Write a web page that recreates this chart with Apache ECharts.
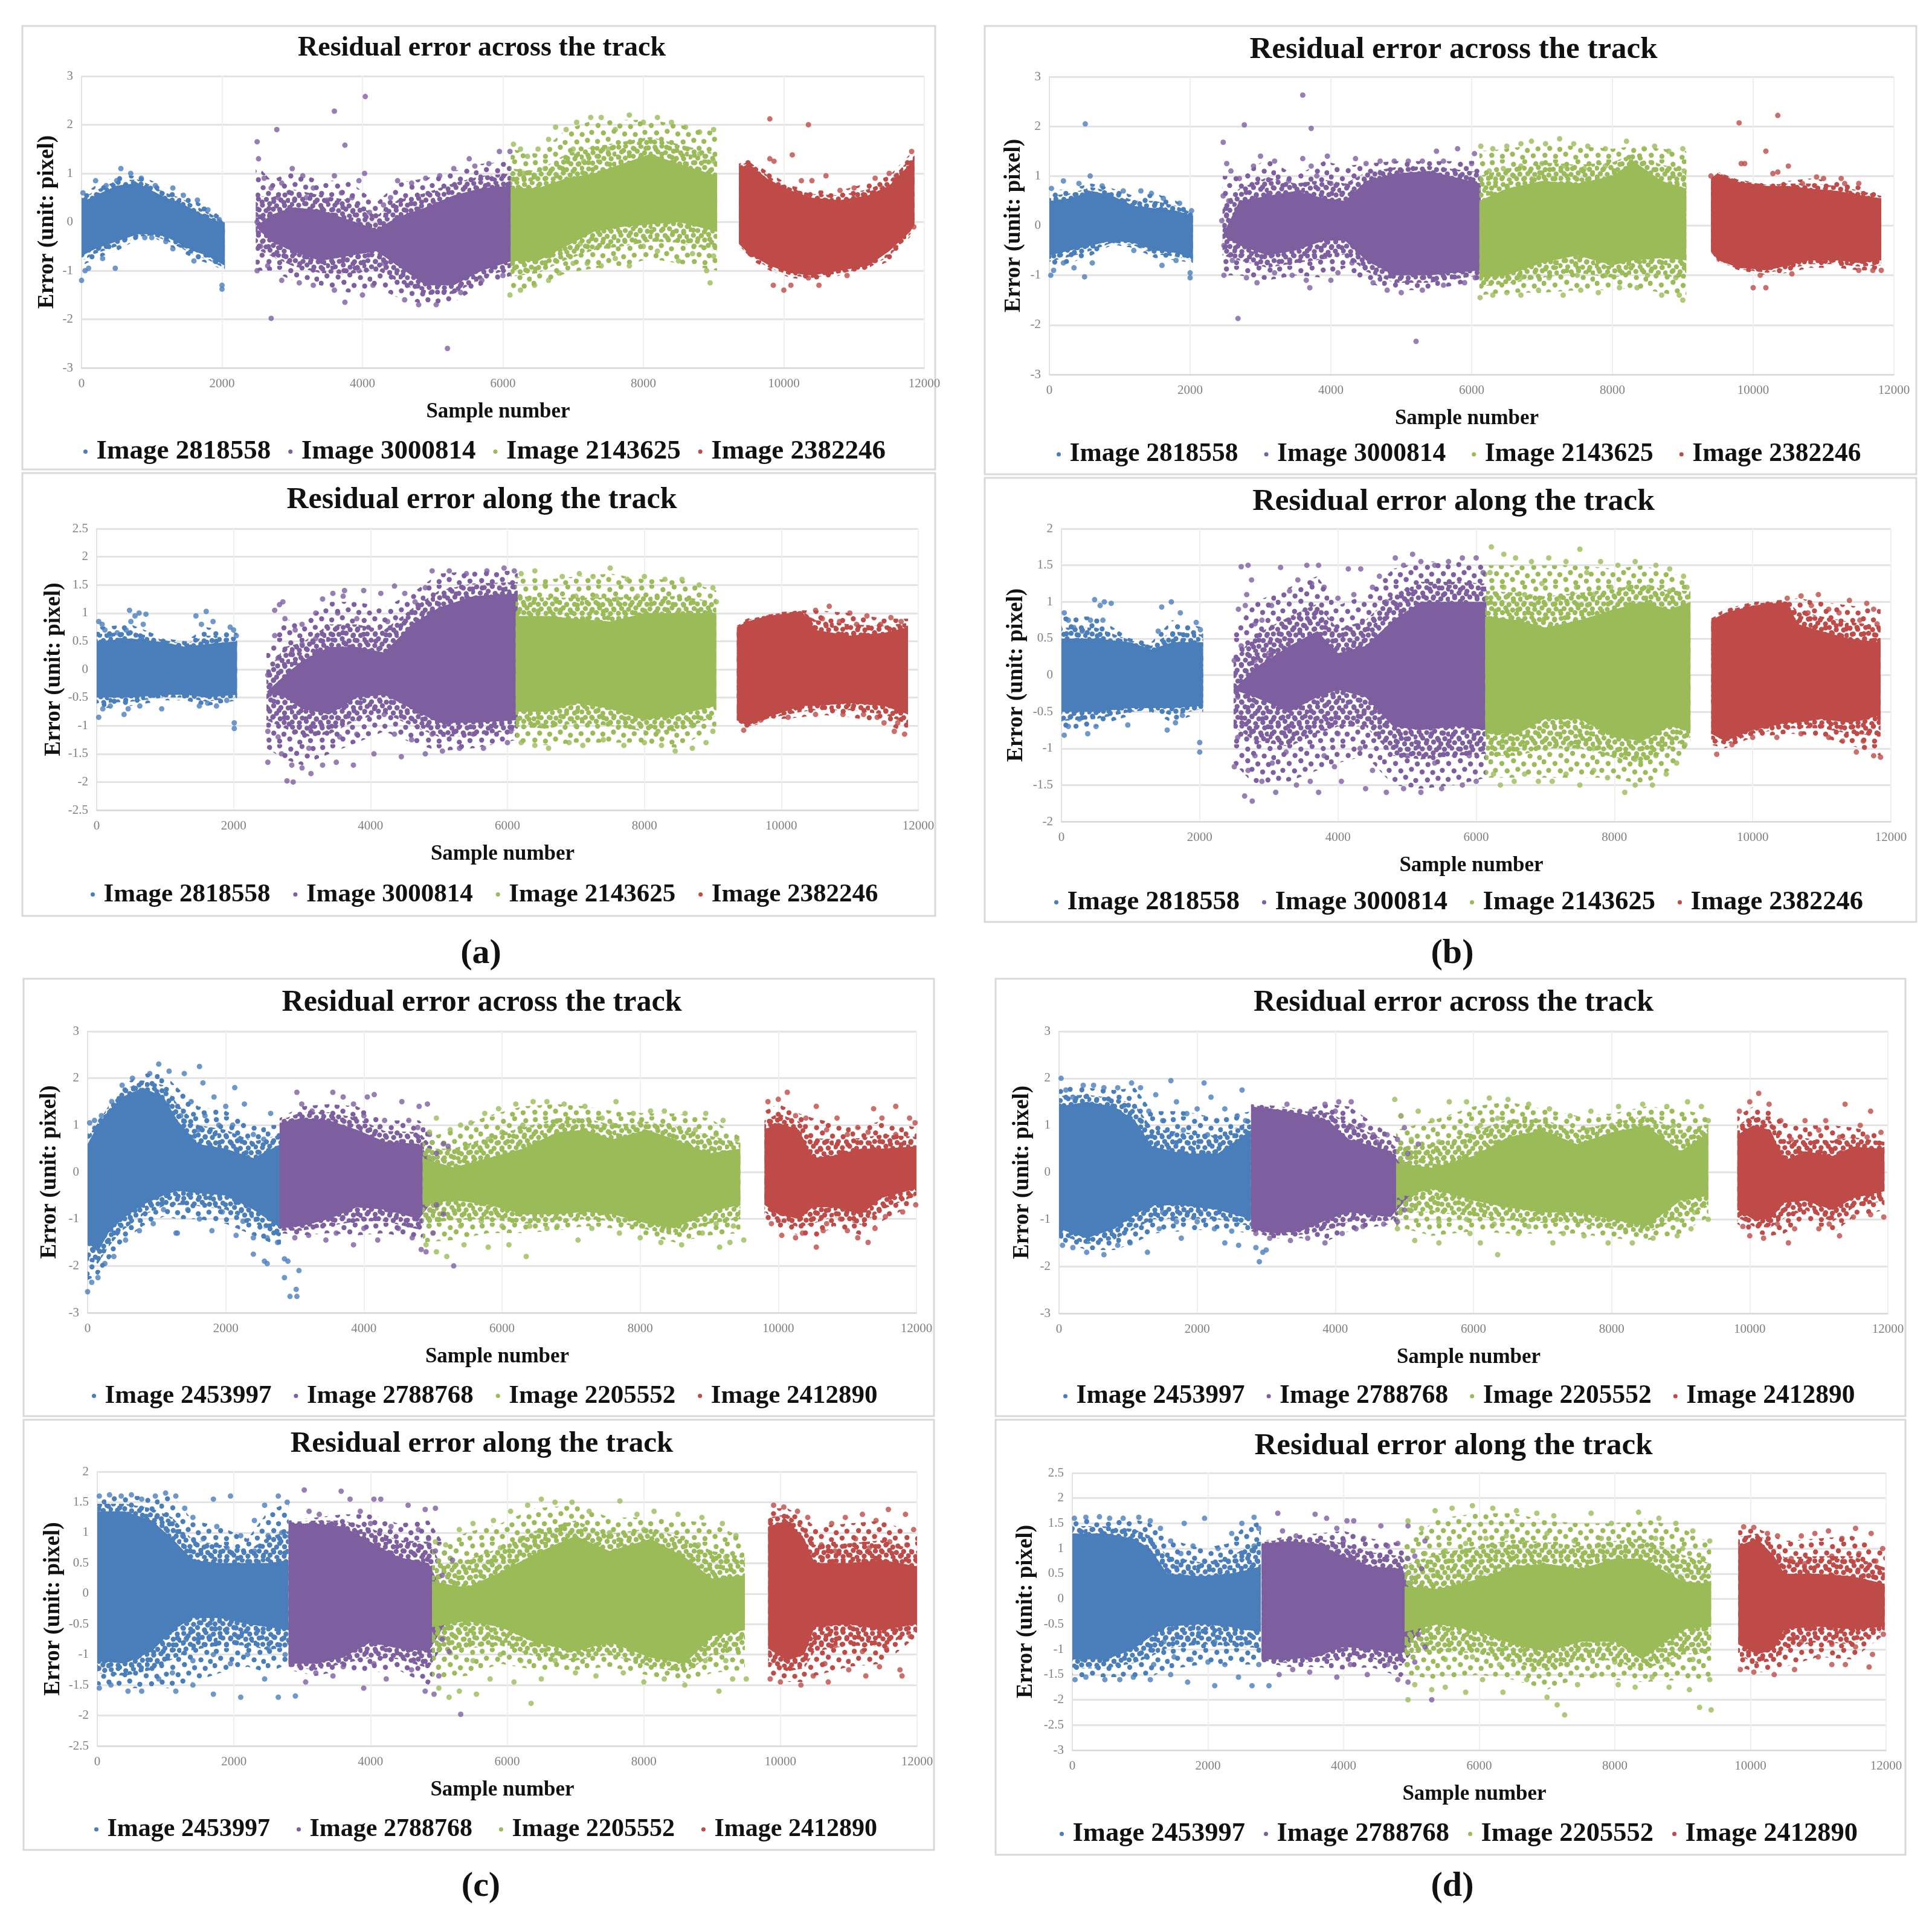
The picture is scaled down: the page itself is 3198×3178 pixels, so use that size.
<!DOCTYPE html>
<html>
<head>
<meta charset="utf-8">
<title>Residual error</title>
<script src="https://cdn.jsdelivr.net/npm/echarts@6/dist/echarts.min.js"></script>
<style>
  html, body { margin: 0; padding: 0; background: #fff; }
  #chart { width: 3198px; height: 3178px; }
</style>
</head>
<body>
<div id="chart"></div>
<script>
// legend names
const imagesAB = ["Image 2818558", "Image 3000814", "Image 2143625", "Image 2382246"];
const imagesCD = ["Image 2453997", "Image 2788768", "Image 2205552", "Image 2412890"];
const xTicksMax = 12000;

// Each cloud is read off the picture twice:
// its outline as [sample, solid low, solid high, outer low, outer high], and the separate points round it as [sample, error]

// (a) across
const a1Blue = [[0,-.7,.4,-.9,.55],[200,-.55,.55,-.75,.75],[500,-.4,.75,-.6,.95],[800,-.25,.8,-.35,.95],[1000,-.25,.65,-.3,.85],[1200,-.3,.5,-.45,.7],[1400,-.45,.4,-.6,.6],[1600,-.6,.25,-.75,.45],[1800,-.7,.1,-.85,.3],[2040,-.9,-.05,-1,.05]];
const a1BlueDots = [[0,-1.2],[50,-1],[100,-.95],[300,-.75],[480,-.95],[560,1.1],[500,.85],[700,1],[850,.9],[1050,.75],[1300,.7],[1450,.55],[1650,.45],[1800,.25],[1960,.05],[2000,-1.3],[2000,-1.38],[20,.6],[200,.85],[350,.75],[1300,-.55],[1600,-.8],[1000,-.32],[900,-.32],[1200,-.4],[1900,-.8]];
const a1Purple = [[2480,-.1,-.1,-1,1.2],[2700,-.4,.15,-1,.85],[3000,-.6,.3,-1.2,1.05],[3400,-.8,.25,-1.3,.85],[3800,-.7,.05,-1.45,.85],[4200,-.6,-.15,-1.35,.4],[4500,-.9,.1,-1.55,.8],[4900,-1.3,.3,-1.7,.9],[5300,-1.3,.55,-1.65,1.05],[5700,-1,.7,-1.3,1.2],[6130,-.8,.75,-1.1,1.25]];
const a1PurpleDots = [[2520,1.3],[2600,.9],[2700,.7],[2850,.8],[3000,1.1],[3150,.95],[3300,.7],[3600,.95],[3700,.6],[4030,1],[3950,.85],[3850,.5],[4300,.35],[4500,.85],[4700,.8],[4900,.9],[5100,.95],[5300,1.1],[5520,1.3],[5600,1.15],[5800,1.2],[5950,1.45],[6100,1.45],[2500,1.65],[2780,1.9],[3600,2.28],[4040,2.58],[3750,1.58],[2700,-1.98],[5210,-2.6],[2500,-1],[2650,-.9],[2850,-1.2],[3100,-1.25],[3300,-1.3],[3600,-1.4],[3750,-1.65],[4000,-1.5],[4150,-1.3],[4600,-1.6],[4800,-1.7],[5050,-1.7],[5400,-1.45],[5700,-1.2],[6000,-1.1],[2500,0],[2550,-.5],[4100,.2],[4400,.5],[2800,.5],[3200,.5],[3500,.45],[3950,-1],[4300,-.85]];
const a1Green = [[6110,-.8,.7,-1.45,1.5],[6500,-.8,.7,-1.3,1.4],[6900,-.5,.9,-1.05,1.9],[7300,-.2,1,-.95,2.1],[7700,-.1,1.2,-.9,2.1],[8100,-.05,1.4,-.75,2.1],[8500,0,1.2,-.85,2],[9050,-.2,.95,-1,1.85]];
const a1GreenDots = [[6150,1.6],[6250,1.5],[6350,1.35],[6500,1.5],[6650,1.7],[6750,1.95],[6900,1.9],[7050,2.05],[7250,2.15],[7400,2.15],[7600,1.9],[7800,2.2],[8000,2.05],[8200,2.15],[8400,2.05],[8600,1.95],[8800,1.85],[9000,1.9],[6300,1],[6600,1.1],[7000,1.5],[7150,1.25],[7500,1.5],[6450,.95],[8800,1.4],[9000,1.25],[6100,-1.5],[6250,-1.4],[6450,-1.3],[6650,-1.2],[6800,-1.05],[7000,-.85],[7200,-.85],[7400,-.9],[7600,-.75],[7800,-.9],[8000,-.5],[8200,-.6],[8500,-.8],[8700,-.65],[8900,-1],[8950,-1.25],[9000,-.7],[7100,-.45],[7500,-.5]];
const a1Red = [[9360,-.45,1.1,-.5,1.2],[9500,-.65,1.2,-.75,1.3],[9800,-.9,.85,-1,1],[10100,-1.05,.65,-1.15,.75],[10400,-1.1,.5,-1.2,.65],[10800,-1,.45,-1.1,.65],[11200,-.9,.55,-1,.8],[11500,-.6,.75,-.8,.95],[11800,-.2,1.2,-.3,1.4],[11860,-.05,1.35,-.1,1.45]];
const a1RedDots = [[9800,2.12],[10350,2],[10120,1.38],[9800,1.3],[9860,1.25],[10400,.85],[10250,.85],[10600,.95],[10100,-1.3],[9850,-1.3],[10000,-1.4],[10500,-1.3],[10800,.65],[11000,.7],[11300,.9],[11500,1],[11820,1.45],[10900,-1.1],[10350,-1.15],[11600,.95],[11400,.7],[11850,-.1]];

// (a) along
const a2Blue = [[0,-.5,.5,-.7,.75],[500,-.5,.55,-.65,.8],[1000,-.45,.48,-.55,.55],[1300,-.45,.4,-.55,.5],[1600,-.5,.45,-.65,.75],[2050,-.45,.5,-.55,.65]];
const a2BlueDots = [[30,.85],[80,.8],[120,.7],[200,.6],[300,.65],[430,.7],[480,1.05],[560,.95],[620,1],[720,.98],[680,.8],[500,.85],[1450,.95],[1600,1.03],[1700,.85],[1530,.8],[1950,.75],[2000,.7],[2040,.6],[30,-.85],[90,-.7],[200,-.65],[400,-.8],[460,-.7],[630,-.65],[950,-.7],[1500,-.65],[1620,-.6],[1750,-.65],[2010,-1.05],[2010,-.95],[1900,-.55]];
const a2Purple = [[2480,-.4,-.4,-1.4,.3],[2750,-.5,-.1,-1.6,.9],[3000,-.7,.15,-1.7,.8],[3400,-.8,.4,-1.5,1.2],[3800,-.5,.4,-1.3,1.2],[4200,-.45,.3,-1.1,1.1],[4600,-.7,.8,-1.3,1.35],[5000,-.95,1.1,-1.45,1.7],[5500,-.95,1.3,-1.4,1.75],[6150,-.9,1.35,-1.25,1.75]];
const a2PurpleDots = [[2600,1.05],[2670,1.15],[2720,1.2],[2750,.9],[2600,.6],[2900,.7],[3000,.8],[3200,1],[3300,1.25],[3450,1.35],[3600,1.3],[3520,1],[3620,1.4],[3900,1.4],[3800,.9],[4150,1.35],[4350,1.48],[4500,1.35],[4250,.85],[4650,1.2],[4800,1.45],[4900,1.75],[5150,1.75],[5400,1.7],[5700,1.75],[5950,1.8],[6100,1.75],[2500,-.1],[2650,.2],[2850,.3],[3000,.45],[3200,.55],[2500,-1.65],[2500,-1.1],[2650,-1.2],[2700,-1.5],[2780,-1.98],[2870,-2],[2850,-1.7],[3000,-1.75],[3130,-1.85],[3100,-1.4],[3300,-1.7],[3500,-1.65],[3750,-1.7],[3550,-1.2],[3800,-1.15],[4050,-1.5],[4450,-1.55],[4350,-1.15],[4600,-1.25],[4800,-1.5],[5050,-1.45],[5300,-1.4],[5650,-1.4],[6000,-1.3],[4200,-.8],[4900,-1.15],[5500,-1.15],[6050,-1.1]];
const a2Green = [[6120,-.75,.95,-1.3,1.65],[6600,-.75,.95,-1.35,1.6],[7000,-.6,.9,-1.3,1.65],[7500,-.7,.85,-1.3,1.7],[8000,-.9,1,-1.3,1.6],[8500,-.8,1,-1.4,1.6],[9050,-.65,1,-1,1.4]];
const a2GreenDots = [[6200,1.7],[6400,1.75],[6550,1.5],[6800,1.65],[7050,1.7],[7250,1.65],[7500,1.8],[7750,1.6],[8000,1.65],[8300,1.6],[8550,1.6],[8800,1.5],[9000,1.45],[6300,1.25],[6700,1.25],[7000,1.3],[7300,1.3],[7600,1.25],[7900,1.3],[8700,1.2],[9050,1.2],[6200,-1.3],[6400,-1.35],[6600,-1.4],[6900,-1.3],[7100,-1.35],[7400,-1.25],[7700,-1.35],[8000,-1.3],[8250,-1.35],[8450,-1.45],[8700,-1.4],[8900,-1.3],[9000,-1.1],[6500,-1],[7000,-1],[7500,-.95],[8200,-1.1],[8700,-1]];
const a2Red = [[9350,-.9,.75,-.95,.8],[9500,-1,.85,-1.05,.9],[9800,-.85,.95,-.9,1],[10300,-.65,1.03,-.85,1.05],[10500,-.65,.7,-.8,1.05],[11000,-.6,.6,-.85,1],[11500,-.65,.65,-.95,.9],[11850,-.8,.75,-1.15,.9]];
const a2RedDots = [[10500,1.05],[10700,1.12],[10600,.9],[11000,1],[10850,.85],[11250,.95],[11100,.8],[11600,.92],[11450,.8],[11750,.85],[9450,-1.08],[9700,-.9],[10100,-.85],[10500,-.8],[10900,-.8],[11200,-.8],[11400,-.85],[11500,-.95],[11650,-1.1],[11800,-1.15],[11700,-.95]];

// (b) across
const b1Blue = [[0,-.6,.5,-.85,.7],[300,-.5,.55,-.75,.75],[600,-.4,.7,-.6,.85],[900,-.3,.6,-.38,.75],[1200,-.35,.4,-.45,.6],[1500,-.5,.35,-.65,.65],[1800,-.55,.3,-.7,.5],[2040,-.65,.2,-.75,.3]];
const b1BlueDots = [[20,-1],[60,-.9],[200,-.75],[350,-.85],[500,-1.03],[610,-.75],[510,2.05],[580,1],[200,.9],[30,.75],[420,.85],[750,.8],[1050,.7],[1300,.7],[1450,.65],[1620,.55],[1850,.45],[2020,.3],[1600,-.8],[1200,-.5],[2000,-1.05],[2000,-.95],[1800,-.7]];
const b1Purple = [[2460,-.2,-.2,-1,1],[2700,-.4,.5,-1,1],[3100,-.6,.6,-1.1,1.35],[3500,-.5,.7,-1,1],[3900,-.3,.55,-1.05,1.3],[4200,-.3,.5,-.85,1.2],[4500,-.7,.9,-1.15,1.25],[4900,-1,1.05,-1.3,1.3],[5400,-1,1.1,-1.3,1.3],[6130,-.9,.85,-1.1,1.3]];
const b1PurpleDots = [[2470,1.68],[2520,1.25],[2580,1.1],[2700,.95],[2900,1.2],[3000,1.4],[3200,1.3],[3400,.9],[3600,1.35],[3720,1.2],[3950,1.4],[3800,1],[4000,.85],[4350,1.35],[4500,1.25],[4700,1.3],[4900,1.3],[5100,1.3],[5300,1.3],[5600,1.3],[5500,1.5],[5800,1.55],[6040,1.45],[6000,1.25],[2770,2.03],[3600,2.63],[3720,1.96],[2680,-1.87],[5210,-2.33],[2480,-1],[2600,-.7],[2800,-1.05],[2950,-1.15],[3200,-.95],[3450,-1],[3650,-1.1],[3700,-1.25],[4000,-1.1],[4100,-.95],[4300,-.75],[4600,-1.15],[4800,-1.3],[5000,-1.35],[5300,-1.3],[5600,-1.2],[5900,-1.15],[6050,-1.05],[2450,.1],[2480,-.4],[2550,.5],[2470,.6],[2600,-.2]];
const b1Green = [[6110,-1.05,.5,-1.4,1.5],[6500,-1,.75,-1.35,1.55],[7000,-.75,.9,-1.35,1.65],[7500,-.6,.85,-1.3,1.6],[8000,-.8,1,-1.3,1.55],[8300,-.7,1.3,-1.25,1.6],[8700,-.65,.9,-1.35,1.55],[9050,-.7,.75,-1.45,1.5]];
const b1GreenDots = [[6130,1.6],[6300,1.55],[6500,1.6],[6700,1.65],[6850,1.7],[7050,1.65],[7250,1.75],[7450,1.65],[7650,1.6],[7900,1.55],[8200,1.7],[8450,1.55],[8600,1.6],[8800,1.5],[9000,1.55],[6250,1.1],[6450,1.15],[6700,1.2],[7000,1.25],[7300,1.2],[7600,1.15],[7900,1.2],[8800,1.15],[9020,1.1],[6120,-1.45],[6300,-1.4],[6500,-1.35],[6700,-1.4],[6950,-1.3],[7300,-1.4],[7550,-1.3],[7800,-1.35],[8100,-1.25],[8350,-1.25],[8700,-1.4],[8950,-1.4],[9000,-1.5],[6700,-1.05],[7100,-1.05],[7500,-1],[7900,-1],[8500,-1],[8900,-1.05]];
const b1Red = [[9400,-.5,.9,-.55,1],[9500,-.7,1.05,-.75,1.08],[9800,-.85,.88,-.9,.92],[10200,-.9,.8,-1,.85],[10500,-.8,.8,-.95,.9],[10800,-.7,.75,-.85,.95],[11200,-.7,.7,-.85,.9],[11500,-.75,.62,-.9,.8],[11820,-.7,.55,-.9,.65]];
const b1RedDots = [[9800,2.07],[10350,2.22],[10180,1.5],[9830,1.25],[9880,1.25],[10500,1.2],[10350,1.08],[10280,1.05],[10900,.98],[11000,.95],[11250,.95],[11500,.85],[11300,.85],[10000,-1.25],[10180,-1.25],[10100,-1],[10550,-.97],[11500,-.9],[11820,-.9],[11700,-.9],[9400,1],[10700,.85]];

// (b) along
const b2Blue = [[0,-.5,.5,-.75,.8],[500,-.5,.5,-.7,.8],[1000,-.45,.45,-.55,.5],[1300,-.45,.35,-.5,.45],[1600,-.45,.45,-.65,.75],[2050,-.42,.45,-.5,.65]];
const b2BlueDots = [[40,.85],[100,.75],[180,.65],[300,.6],[420,.75],[480,1.03],[560,.95],[620,1],[720,.98],[600,.75],[1450,.93],[1590,1],[1720,.85],[1400,.6],[1950,.72],[2010,.62],[40,-.82],[100,-.7],[260,-.6],[380,-.8],[500,-.7],[960,-.68],[1530,-.75],[1650,-.65],[2000,-1.05],[2000,-.92],[1750,-.55]];
const b2Purple = [[2490,-.2,-.2,-1.2,.6],[2800,-.3,.1,-1.5,1],[3300,-.5,.4,-1.45,1.2],[3700,-.3,.6,-1.3,1.35],[4000,-.2,.3,-1.2,.95],[4400,-.3,.4,-1.1,1.1],[4800,-.7,.75,-1.5,1.45],[5200,-.75,1,-1.55,1.55],[5700,-.7,1,-1.5,1.55],[6150,-.75,1,-1.4,1.5]];
const b2PurpleDots = [[2600,1.48],[2700,1.5],[2750,1.3],[2680,1.1],[2560,.9],[2660,.95],[2800,.7],[2900,.75],[3040,.95],[3170,1.47],[3300,1.15],[3420,1.3],[3550,1.5],[3620,1.25],[3720,1.5],[3800,1.2],[4000,1.05],[4150,1.45],[4230,1.1],[4330,1.45],[4500,1.2],[4600,1.35],[4700,1],[4830,1.6],[4950,1.5],[5080,1.65],[5200,1.55],[5400,1.5],[5600,1.55],[5800,1.6],[6000,1.6],[6100,1.4],[2500,.2],[2550,-.3],[2600,.4],[2800,.2],[2700,-.5],[3000,.3],[3100,-.2],[2500,-1.25],[2550,-.85],[2650,-1.65],[2760,-1.72],[2700,-1.3],[2800,-1.1],[2900,-1.45],[3100,-1.6],[3050,-1.2],[3250,-1.05],[3400,-1.5],[3600,-1.45],[3720,-1.6],[3800,-1.1],[3950,-1.25],[4050,-1.45],[4000,-.8],[4400,-1.55],[4320,-1],[4500,-1.3],[4700,-1.6],[4950,-1.55],[5200,-1.6],[5500,-1.55],[5800,-1.5],[6000,-1.45],[5000,-1.1],[5400,-1.2],[5900,-1.1]];
const b2Green = [[6130,-.8,.8,-1.4,1.5],[6600,-.8,.75,-1.4,1.5],[7000,-.6,.65,-1.4,1.5],[7500,-.6,.75,-1.4,1.5],[8000,-.85,.9,-1.4,1.45],[8400,-.9,1,-1.5,1.5],[8800,-.7,.9,-1.3,1.4],[9100,-.75,1,-.95,1.3]];
const b2GreenDots = [[6220,1.75],[6400,1.65],[6570,1.6],[6800,1.55],[7050,1.6],[7300,1.55],[7500,1.72],[7600,1.4],[7800,1.55],[8050,1.5],[8300,1.55],[8600,1.5],[8800,1.45],[9000,1.35],[6200,1.4],[6400,1.2],[6700,1.1],[6950,1.25],[7200,1.05],[7450,1.2],[7700,1.1],[7950,1.2],[8200,1.2],[8500,1.2],[8800,1.15],[9050,1.2],[6250,-1.35],[6350,-1.5],[6550,-1.45],[6700,-1.35],[6900,-1.45],[7100,-1.45],[7300,-1.35],[7500,-1.5],[7700,-1.3],[7900,-1.4],[8150,-1.6],[8300,-1.5],[8550,-1.5],[8750,-1.35],[8900,-1.2],[9020,-.95],[6500,-1],[7000,-1],[7350,-.95],[7700,-1],[8300,-1.15],[8600,-1.1]];
const b2Red = [[9400,-.8,.75,-.95,.8],[9600,-.9,.85,-1,.9],[10000,-.75,.95,-.85,1],[10500,-.65,1,-.8,1.03],[10650,-.65,.7,-.8,1.05],[11000,-.6,.6,-.85,1],[11400,-.65,.5,-.95,.95],[11850,-.55,.45,-1.1,.9]];
const b2RedDots = [[9480,-1.08],[9700,-.95],[10000,-.85],[10350,-.85],[10700,-.8],[11100,-.85],[11300,-.9],[11500,-1.05],[11750,-1.1],[11850,-1.12],[11600,-.9],[10500,1.05],[10700,1.08],[10950,1.1],[10850,.95],[11100,.9],[11400,1.02],[11250,.85],[11650,.98],[11750,.9],[11800,.7],[11550,.75],[10800,.85]];

// (c) across
const c1Blue = [[0,-1.5,.6,-2.3,.9],[150,-1.7,1,-2.2,1.1],[300,-1.3,1.3,-1.9,1.5],[500,-1,1.6,-1.5,1.85],[800,-.7,1.8,-1.15,2.1],[1100,-.5,1.6,-.95,2.1],[1300,-.4,1.1,-1,1.8],[1600,-.45,.6,-1,1.4],[2000,-.5,.5,-1.1,1.3],[2400,-.8,.3,-1.35,1],[2800,-1.2,.6,-1.6,1]];
const c1BlueDots = [[30,1.05],[100,1.1],[200,1.2],[350,1.5],[500,1.85],[650,2],[900,2.1],[1030,2.3],[1180,2.15],[1400,2.1],[1620,2.25],[1670,1.9],[1830,1.6],[2130,1.8],[2000,1.4],[2270,1.45],[1500,1.5],[1350,1.2],[1700,1.2],[1900,1],[2100,1],[2650,1.25],[2400,.8],[2550,.7],[1600,.9],[2200,.7],[0,-2.55],[60,-2.35],[150,-2.25],[250,-1.95],[380,-1.8],[550,-1.45],[750,-1.25],[950,-1.1],[1280,-1.3],[1300,-1.3],[1620,-1],[1800,-1.25],[2150,-1.35],[2400,-1.4],[2400,-1.75],[2560,-1.9],[2600,-1.95],[2850,-1.85],[2900,-1.9],[2850,-2.25],[2930,-2.65],[3020,-2.5],[3030,-2.65],[3060,-2.1],[2600,-1.4],[2750,-1.5],[1100,-.8],[1450,-.8],[1950,-.85],[2250,-1.05]];
const c1Purple = [[2780,-1.2,1.05,-1.3,1.15],[3100,-1.15,1.15,-1.35,1.4],[3500,-1,1.1,-1.3,1.45],[3900,-.75,.9,-1.35,1.4],[4300,-.8,.65,-1.3,1.1],[4800,-1,.6,-1.45,1.1],[5200,-.2,-.2,-.9,.6]];
const c1PurpleDots = [[3030,1.7],[3100,1.45],[3250,1.3],[3550,1.7],[3700,1.6],[3850,1.45],[4050,1.6],[4150,1.65],[4000,1.2],[4300,1.1],[4550,1.5],[4650,1.1],[4800,1.4],[4920,1.45],[4780,.95],[4950,.8],[5150,.6],[5220,.55],[5050,.4],[3000,-1.4],[3200,-1.35],[3450,-1.45],[3600,-1.3],[3850,-1.55],[4000,-1.2],[4200,-1.45],[4500,-1.2],[4700,-1.4],[4830,-1.65],[4900,-1.7],[5300,-2],[5000,-1.3],[5150,-.9],[5050,-.7]];
const c1Green = [[4850,-.7,.3,-1.5,.7],[5300,-.6,.1,-1.45,.9],[5800,-.7,.3,-1.3,1.2],[6300,-.9,.5,-1.3,1.4],[6800,-.9,.85,-1.25,1.45],[7200,-.85,.9,-1.15,1.4],[7600,-.9,.7,-1.2,1.3],[8100,-1.1,.9,-1.35,1.25],[8500,-1.2,.7,-1.5,1.25],[9000,-.85,.4,-1.35,1.15],[9450,-.7,.5,-1.3,.75]];
const c1GreenDots = [[4950,.85],[5050,1.15],[5250,.9],[5400,1],[5550,1.05],[5750,1.25],[5950,1.35],[6200,1.45],[6450,1.5],[6650,1.5],[6900,1.45],[7200,1.4],[7450,1.15],[7650,1.5],[7900,1.25],[8150,1.3],[8350,1.3],[8650,1.25],[8950,1.25],[9200,1.1],[9400,.7],[5500,.55],[5800,.7],[6000,.85],[6300,1],[7600,1],[8000,1.05],[8800,.9],[9100,.8],[4900,-1.55],[5050,-1.7],[5200,-1.8],[5450,-1.55],[5800,-1.6],[6100,-1.55],[6350,-1.8],[6650,-1.2],[7100,-1.45],[7300,-1.2],[7700,-1.3],[8000,-1.4],[8300,-1.5],[8600,-1.55],[8900,-1.3],[9150,-1.6],[9300,-1.5],[9500,-1.45],[5400,-1.15],[5700,-1.05],[6000,-1.15],[6400,-1.15],[6800,-1.15],[9100,-1.1],[9350,-1.15]];
const c1Red = [[9800,-.7,.9,-1,1.3],[10000,-.9,1.05,-1.2,1.45],[10300,-1,.9,-1.35,1.25],[10500,-.75,.3,-1.45,1.15],[10800,-.75,.35,-1.15,1.05],[11200,-.9,.5,-1.35,.95],[11500,-.55,.5,-1.05,1.1],[12000,-.35,.55,-.65,.95]];
const c1RedDots = [[9850,1.5],[10000,1.55],[10130,1.7],[10250,1.2],[10400,1.15],[10550,1.4],[10850,1.15],[11000,.8],[11150,.95],[11380,1.35],[11500,1.15],[11700,1.4],[11900,1.15],[11980,1.05],[10700,.9],[11300,.85],[11700,.8],[9900,-1.1],[10050,-1.35],[10250,-1.4],[10550,-1.6],[10350,-1.3],[10700,-1.1],[10900,-1],[11150,-1.4],[11300,-1.5],[11400,-1.2],[11550,-.95],[11800,-.85],[11990,-.7],[10650,-1.25],[11000,-1.25]];

// (c) along
const c2Blue = [[0,-1.1,1.35,-1.5,1.6],[400,-1.15,1.35,-1.55,1.6],[800,-.95,1.2,-1.55,1.6],[1100,-.6,.9,-1.55,1.6],[1400,-.4,.55,-1.45,1.2],[1800,-.4,.5,-1.3,1.1],[2200,-.5,.5,-1.2,.9],[2500,-.55,.5,-1.3,1.35],[2800,-.6,.55,-1.15,1.5]];
const c2BlueDots = [[30,1.6],[180,1.62],[350,1.6],[500,1.62],[650,1.55],[850,1.6],[1000,1.65],[1150,1.6],[1280,1.4],[1400,1.25],[1700,1.55],[1950,1.6],[1750,1.1],[1550,.9],[2100,.95],[2300,1.2],[2450,1.45],[2650,1.6],[2780,1.5],[2500,.95],[2700,1],[1900,.75],[2300,.7],[1250,.95],[30,-1.55],[200,-1.5],[450,-1.6],[650,-1.6],[900,-1.4],[1150,-1.6],[1400,-1.5],[1700,-1.65],[2100,-1.7],[2450,-1.4],[2650,-1.7],[2900,-1.68],[1100,-1.3],[1400,-1.1],[1700,-1],[1950,-1.15],[2200,-1],[2500,-.9],[2750,-1],[1300,-.75],[1650,-.7],[2050,-.7]];
const c2Purple = [[2800,-1.15,1.15,-1.25,1.2],[3200,-1.15,1.15,-1.35,1.25],[3600,-1.05,1.1,-1.25,1.3],[4000,-.8,.85,-1.3,1.3],[4400,-.9,.6,-1.25,1.15],[4850,-.95,.5,-1.5,1.2],[5200,-.3,-.3,-.9,.6]];
const c2PurpleDots = [[3030,1.7],[3100,1.35],[3250,1.3],[3570,1.68],[3700,1.55],[3850,1.35],[4050,1.55],[4150,1.55],[4000,1.15],[4300,1.1],[4550,1.45],[4800,1.38],[4950,1.4],[4700,1.05],[4850,.9],[4950,.7],[5200,.55],[5050,.3],[3050,-1.45],[3200,-1.3],[3450,-1.35],[3600,-1.2],[3900,-1.55],[4050,-1.15],[4230,-1.4],[4600,-1.25],[4800,-1.6],[4930,-1.65],[5320,-1.98],[5000,-1.35],[5150,-.95],[5050,-.75]];
const c2Green = [[4900,-.55,.2,-1.4,.75],[5400,-.45,.1,-1.35,1],[5900,-.55,.35,-1.15,1.15],[6400,-.8,.65,-1.25,1.4],[7000,-.95,.95,-1.25,1.45],[7500,-.8,.7,-1.2,1.25],[8100,-1.05,.9,-1.35,1.25],[8600,-1.15,.6,-1.45,1.2],[9000,-.7,.25,-1.3,1.15],[9480,-.6,.3,-1.25,.9]];
const c2GreenDots = [[4950,.85],[5100,.8],[5300,1.05],[5500,1.15],[5800,1.2],[6050,1.35],[6300,1.45],[6500,1.55],[6700,1.5],[6950,1.5],[7200,1.35],[7650,1.52],[7900,1.3],[8150,1.35],[8500,1.3],[8850,1.25],[9150,1.15],[9350,.95],[5600,.55],[5900,.75],[6200,.9],[7500,1],[8000,1.05],[8800,.8],[9200,.6],[5000,-1.55],[5150,-1.7],[5300,-1.6],[5550,-1.65],[5750,-1.4],[6100,-1.45],[6350,-1.8],[6500,-1.4],[7000,-1.3],[7300,-1.35],[7700,-1.3],[8000,-1.45],[8300,-1.4],[8600,-1.5],[9100,-1.6],[9300,-1.4],[9500,-1.4],[5500,-1.1],[5900,-1],[6200,-1.1],[6700,-1.1],[8900,-1.1],[9200,-1.1]];
const c2Red = [[9820,-.9,1.1,-1.35,1.4],[10100,-1.1,1.2,-1.45,1.4],[10350,-1,.9,-1.45,1.25],[10500,-.55,.5,-1.35,1.1],[11000,-.5,.5,-1.2,1.15],[11500,-.6,.55,-1.15,1.2],[12000,-.5,.45,-.7,.95]];
const c2RedDots = [[9900,1.45],[10050,1.42],[10250,1.35],[10400,1.25],[10750,1.15],[10950,1.25],[11200,1.3],[11400,1.2],[11580,1.38],[11830,1.3],[11950,1.05],[10600,.8],[10800,.7],[11100,.9],[11300,.75],[11600,.85],[11850,.8],[9850,-1.4],[10000,-1.45],[10300,-1.5],[10480,-1.35],[10700,-1.45],[10650,-1.15],[11000,-1.25],[11250,-1.35],[11450,-1.2],[11750,-1.25],[11780,-1.35],[11900,-.7],[10800,-.85],[11200,-.95],[11550,-.9]];

// (d) across
const d1Blue = [[0,-1.2,1.4,-1.45,1.85],[400,-1.4,1.5,-1.65,1.8],[800,-1.2,1.4,-1.65,1.75],[1100,-.9,1.1,-1.5,1.8],[1350,-.7,.55,-1.3,1.3],[1800,-.7,.4,-1.25,1.3],[2300,-.8,.4,-1.2,1.15],[2780,-1,.9,-1.3,1.3]];
const d1BlueDots = [[30,2],[100,1.75],[200,1.6],[350,1.85],[500,1.85],[650,1.8],[850,1.8],[1050,1.9],[1180,1.8],[1300,1.3],[1400,1.65],[1620,1.95],[1700,1.5],[1500,1.1],[1850,1.25],[2100,1.9],[2200,1.6],[2000,1.35],[2280,1.1],[2400,1.35],[2650,1.75],[2580,1.2],[1800,.9],[2150,.8],[2700,1.1],[50,-1.55],[200,-1.6],[400,-1.7],[650,-1.75],[850,-1.55],[1280,-1.7],[1030,-1.5],[1450,-1.2],[1770,-1.4],[2400,-1.5],[2600,-1.55],[2850,-1.6],[2950,-1.7],[2900,-1.9],[3000,-1.65],[1700,-1.05],[2000,-1.05],[2250,-1.2],[2500,-1.25],[1500,-.85],[2050,-.85]];
const d1Purple = [[2780,-1.2,1.4,-1.25,1.45],[3100,-1.3,1.35,-1.4,1.42],[3500,-1.25,1.25,-1.4,1.35],[3900,-1,1.1,-1.45,1.45],[4200,-.85,.7,-1.25,1.4],[4800,-.95,.45,-1.1,.8],[5200,-.3,-.3,-.85,.6]];
const d1PurpleDots = [[3850,1.45],[4050,1.5],[4230,1.5],[4000,1.3],[4400,1],[4250,.95],[4550,.8],[4750,.8],[4950,1.2],[5000,.95],[5200,.6],[4900,.7],[5050,.4],[3650,1.3],[3300,1.45],[4600,.65],[3050,-1.4],[3350,-1.45],[3600,-1.4],[3850,-1.5],[4100,-1.3],[4400,-1.15],[4700,-1.1],[4900,-1.05],[5000,-.8],[4550,-.95],[4300,-1.2],[2850,-1.3]];
const d1Green = [[4880,-.55,.2,-1.15,.9],[5400,-.35,.1,-1.35,1.1],[6000,-.6,.35,-1.25,1.4],[6500,-.75,.75,-1.3,1.5],[7000,-.85,.9,-1.3,1.35],[7500,-.85,.6,-1.3,1.2],[8000,-1,.85,-1.4,1.25],[8500,-1.15,1,-1.45,1.4],[9000,-.6,.45,-1.3,1.35],[9400,-.5,.85,-.95,1.2]];
const d1GreenDots = [[4860,1.55],[4950,1.2],[5200,1.3],[5400,1.1],[5650,1.5],[5900,1.5],[6230,1.58],[6500,1.55],[6800,1.45],[7100,1.35],[7400,1.2],[7700,1.3],[8100,1.4],[8450,1.45],[8800,1.4],[9100,1.5],[9300,1.4],[9400,1.1],[5100,.7],[5500,.65],[5800,.85],[6100,1],[7650,.9],[6350,1.15],[8000,1],[8900,1],[4900,-1.2],[5150,-1.45],[5500,-1.5],[5950,-1.3],[6100,-1.5],[6350,-1.75],[6650,-1.3],[7150,-1.5],[7300,-1.3],[7600,-1.35],[7950,-1.5],[8300,-1.5],[8600,-1.4],[8950,-1.35],[9150,-1.2],[9400,-1],[5500,-1.05],[5900,-1],[6300,-1.1],[6800,-1.15],[8950,-1],[9200,-.85]];
const d1Red = [[9820,-.8,.8,-1.1,1.2],[10050,-1,1,-1.3,1.4],[10300,-1,.9,-1.35,1.3],[10500,-.65,.25,-1.3,1.05],[10800,-.6,.45,-1,1],[11200,-.8,.35,-1.3,1],[11500,-.55,.55,-.95,.95],[11950,-.4,.5,-.8,.8]];
const d1RedDots = [[9850,1.3],[10000,1.5],[10130,1.68],[10280,1.45],[10450,1.1],[10800,1.1],[11000,.9],[11100,1.1],[11380,1.45],[11600,1],[11750,1.3],[11900,.85],[10600,.7],[11300,.75],[11700,.75],[9900,-1.15],[10000,-1.35],[10200,-1.4],[10560,-1.5],[10650,-1.2],[10400,-1.1],[11000,-1.2],[11150,-1.1],[11300,-1.35],[11500,-.95],[11750,-.9],[11940,-.95]];

// (d) along
const d2Blue = [[0,-1.2,1.3,-1.55,1.6],[500,-1.2,1.3,-1.55,1.58],[900,-1,1.2,-1.55,1.58],[1150,-.75,1,-1.55,1.5],[1400,-.55,.5,-1.4,1.2],[1900,-.5,.45,-1.3,1],[2300,-.55,.5,-1.3,1.1],[2500,-.6,.55,-1.3,1.4],[2780,-.65,.65,-1.3,1.55]];
const d2BlueDots = [[30,1.6],[200,1.62],[400,1.63],[550,1.6],[750,1.6],[980,1.62],[1150,1.55],[1300,1.4],[1450,1.15],[1650,1.5],[1950,1.6],[1780,1.05],[1600,.9],[2150,1],[2350,1.3],[2500,1.5],[2680,1.62],[2750,1.4],[2500,.9],[2680,1.05],[1950,.75],[2300,.75],[40,-1.6],[200,-1.55],[480,-1.6],[700,-1.6],[900,-1.55],[1150,-1.6],[1450,-1.5],[1700,-1.65],[2100,-1.72],[2450,-1.55],[2650,-1.72],[2900,-1.72],[1200,-1.3],[1500,-1.15],[1750,-1.2],[2000,-1.25],[2250,-1.3],[2500,-1.2],[2750,-1.3],[1350,-.85],[1700,-.8],[2100,-.85]];
const d2Purple = [[2790,-1.2,1.1,-1.25,1.15],[3200,-1.2,1.15,-1.35,1.25],[3600,-1.15,1.1,-1.35,1.3],[4000,-.95,.85,-1.4,1.35],[4400,-1,.65,-1.35,1.2],[4850,-1.1,.6,-1.55,1.1],[5200,-.5,-.5,-1,.9]];
const d2PurpleDots = [[3030,1.7],[3100,1.35],[3300,1.25],[3580,1.68],[3750,1.6],[3900,1.4],[4050,1.55],[4150,1.55],[4000,1.15],[4300,1.2],[4550,1.45],[4650,1.05],[4800,1.1],[4950,1.45],[5200,1.15],[5050,.85],[5150,.6],[4950,.8],[3050,-1.5],[3250,-1.4],[3500,-1.45],[3900,-1.55],[4100,-1.3],[4350,-1.5],[4650,-1.3],[4800,-1.6],[4950,-1.65],[5300,-2],[5050,-1.25],[5200,-.95],[5100,-.7]];
const d2Green = [[4900,-.65,.25,-1.5,1.1],[5400,-.5,.2,-1.6,1.6],[6000,-.65,.4,-1.5,1.7],[6500,-.9,.65,-1.6,1.7],[7000,-1.05,.7,-1.8,1.55],[7500,-.85,.6,-1.55,1.5],[8000,-.85,.8,-1.6,1.5],[8400,-1.2,.8,-1.65,1.6],[9000,-.6,.35,-1.6,1.4],[9420,-.55,.3,-1.6,1.1]];
const d2GreenDots = [[4950,1.55],[5150,1.4],[5350,1.75],[5600,1.8],[5900,1.85],[6200,1.8],[6550,1.75],[6850,1.7],[7100,1.65],[7650,1.7],[7950,1.5],[8350,1.72],[8650,1.6],[8900,1.5],[9150,1.35],[9400,1.15],[5200,.9],[5500,.95],[5800,1.1],[6100,1.2],[6400,1.25],[7000,1.3],[7400,1.15],[7800,1.2],[8600,1.2],[9000,1],[9300,.8],[4950,-2],[5050,-1.7],[5300,-1.8],[5500,-1.75],[5800,-1.85],[6050,-1.6],[6350,-1.85],[6700,-1.6],[7000,-1.95],[7150,-2.1],[7260,-2.3],[7450,-1.7],[7700,-1.5],[8050,-1.7],[8300,-1.75],[8550,-1.55],[8800,-1.75],[9100,-1.8],[9250,-2.15],[9420,-2.2],[9400,-1.6],[5500,-1.2],[5900,-1.15],[6300,-1.3],[6800,-1.4],[7300,-1.3],[8000,-1.25],[8800,-1.25],[9150,-1.2]];
const d2Red = [[9820,-.9,1.05,-1.35,1.4],[10100,-1.1,1.2,-1.45,1.4],[10350,-1,.85,-1.45,1.25],[10500,-.6,.5,-1.35,1.15],[11000,-.55,.5,-1.15,1.2],[11500,-.6,.45,-1.2,1.25],[11980,-.55,.3,-.7,.95]];
const d2RedDots = [[9900,1.43],[10050,1.42],[10250,1.3],[10400,1.25],[10750,1.25],[10950,1.3],[11150,1.35],[11350,1.2],[11550,1.4],[11780,1.3],[11950,1],[10600,.8],[10800,.7],[11200,.85],[11600,.9],[11850,.75],[9850,-1.4],[10050,-1.45],[10350,-1.5],[10650,-1.4],[11000,-1.15],[11200,-1.3],[11400,-1.3],[11750,-1.35],[11800,-1.1],[11960,-.7],[10750,-.85],[11200,-.9],[11550,-.95]];

const colors = ["#4a7ebb", "#7d5fa0", "#9bbb59", "#be4b48"];
const FONT = '"Liberation Serif", serif';

// box = [left, top, right, bottom], plot = [left, top, right, bottom]
const panels = [
  { title: "Residual error across the track", names: imagesAB, box: [37, 43, 1548, 777], plot: [135, 126, 1530, 609], yMin: -3, yMax: 3, yStep: 1, titleY: 80, titleSize: 46, legendX: 138, legendY: 751, legendSize: 45, step: 339, yNameGap: 38,
    bands: [a1Blue, a1Purple, a1Green, a1Red], dots: [a1BlueDots, a1PurpleDots, a1GreenDots, a1RedDots] },
  { title: "Residual error along the track", names: imagesAB, box: [37, 783, 1548, 1516], plot: [160, 875, 1520, 1341], yMin: -2.5, yMax: 2.5, yStep: 0.5, titleY: 826, titleSize: 50, legendX: 150, legendY: 1485, legendSize: 43, step: 336, yNameGap: 52,
    bands: [a2Blue, a2Purple, a2Green, a2Red], dots: [a2BlueDots, a2PurpleDots, a2GreenDots, a2RedDots] },
  { title: "Residual error across the track", names: imagesAB, box: [1630, 43, 3172, 785], plot: [1737, 127, 3135, 620], yMin: -3, yMax: 3, yStep: 1, titleY: 80, titleSize: 51, legendX: 1749, legendY: 756, legendSize: 43.5, step: 344, yNameGap: 40,
    bands: [b1Blue, b1Purple, b1Green, b1Red], dots: [b1BlueDots, b1PurpleDots, b1GreenDots, b1RedDots] },
  { title: "Residual error along the track", names: imagesAB, box: [1630, 791, 3172, 1526], plot: [1757, 875, 3130, 1360], yMin: -2, yMax: 2, yStep: 0.5, titleY: 828, titleSize: 51.5, legendX: 1745, legendY: 1497, legendSize: 44.5, step: 344, yNameGap: 56,
    bands: [b2Blue, b2Purple, b2Green, b2Red], dots: [b2BlueDots, b2PurpleDots, b2GreenDots, b2RedDots] },
  { title: "Residual error across the track", names: imagesCD, box: [39, 1620, 1546, 2344], plot: [145, 1707, 1517, 2173], yMin: -3, yMax: 3, yStep: 1, titleY: 1658, titleSize: 50, legendX: 152, legendY: 2315, legendSize: 43, step: 335, yNameGap: 44,
    bands: [c1Blue, c1Purple, c1Green, c1Red], dots: [c1BlueDots, c1PurpleDots, c1GreenDots, c1RedDots] },
  { title: "Residual error along the track", names: imagesCD, box: [39, 2350, 1546, 3062], plot: [161, 2436, 1518, 2890], yMin: -2.5, yMax: 2, yStep: 0.5, titleY: 2389, titleSize: 49, legendX: 156, legendY: 3033, legendSize: 42, step: 335, yNameGap: 54,
    bands: [c2Blue, c2Purple, c2Green, c2Red], dots: [c2BlueDots, c2PurpleDots, c2GreenDots, c2RedDots] },
  { title: "Residual error across the track", names: imagesCD, box: [1648, 1620, 3154, 2344], plot: [1753, 1707, 3125, 2174], yMin: -3, yMax: 3, yStep: 1, titleY: 1658, titleSize: 50, legendX: 1760, legendY: 2315, legendSize: 43.5, step: 337, yNameGap: 42,
    bands: [d1Blue, d1Purple, d1Green, d1Red], dots: [d1BlueDots, d1PurpleDots, d1GreenDots, d1RedDots] },
  { title: "Residual error along the track", names: imagesCD, box: [1648, 2350, 3154, 3070], plot: [1775, 2438, 3122, 2897], yMin: -3, yMax: 2.5, yStep: 0.5, titleY: 2391, titleSize: 51, legendX: 1754, legendY: 3039, legendSize: 44.5, step: 338, yNameGap: 58,
    bands: [d2Blue, d2Purple, d2Green, d2Red], dots: [d2BlueDots, d2PurpleDots, d2GreenDots, d2RedDots] }
];

const captions = [["a", 791, 1577], ["b", 2399, 1577], ["c", 791, 3121], ["d", 2399, 3121]];

// speckle used to fill the loose parts of a cloud, positions in a 100x100 tile
const speckle = [[7,6],[26,3],[47,9],[68,4],[89,8],[15,19],[36,21],[58,17],[78,22],[96,25],[4,33],[25,36],[47,31],[66,37],[86,38],[13,49],[35,50],[55,47],[75,52],[95,53],[5,64],[24,66],[44,62],[63,68],[85,67],[15,79],[34,81],[54,77],[73,83],[93,80],[6,92],[26,94],[45,90],[64,96],[84,93]];

function speckleTile(color, size) {
  const cv = document.createElement("canvas");
  cv.width = size;
  cv.height = size;
  const ctx = cv.getContext("2d");
  ctx.fillStyle = color;
  speckle.forEach(s => {
    ctx.beginPath();
    ctx.arc(s[0] * size / 100, s[1] * size / 100, 4.2, 0, Math.PI * 2);
    ctx.fill();
  });
  return cv;
}

function outline(rows, api, lowAt, highAt) {
  const top = rows.map(r => api.coord([r[0], highAt(r)]));
  const bottom = rows.map(r => api.coord([r[0], lowAt(r)])).reverse();
  return top.concat(bottom);
}

// one cloud: loose speckle, closer speckle, then the solid part
function cloudRenderer(rows, color) {
  const loose = { image: speckleTile(color, 88), repeat: "repeat" };
  const close = { image: speckleTile(color, 60), repeat: "repeat" };
  return function (params, api) {
    if (params.dataIndex !== 0) return null;
    return {
      type: "group",
      children: [
        { type: "polygon", shape: { points: outline(rows, api, r => r[3], r => r[4]) }, style: { fill: loose } },
        { type: "polygon", shape: { points: outline(rows, api, r => (r[1] + r[3]) / 2, r => (r[2] + r[4]) / 2) }, style: { fill: close } },
        { type: "polygon", shape: { points: outline(rows, api, r => r[1], r => r[2]) }, style: { fill: color } }
      ]
    };
  };
}

const option = {
  animation: false,
  backgroundColor: "#fff",
  title: [],
  legend: [],
  grid: [],
  xAxis: [],
  yAxis: [],
  series: [],
  graphic: []
};

panels.forEach((p, i) => {
  option.graphic.push({
    type: "rect",
    silent: true,
    z: -1,
    shape: { x: p.box[0], y: p.box[1], width: p.box[2] - p.box[0], height: p.box[3] - p.box[1] },
    style: { fill: "#fff", stroke: "#d9d9d9", lineWidth: 3 }
  });
  option.title.push({
    text: p.title,
    left: (p.box[0] + p.box[2]) / 2,
    top: p.titleY - 28,
    textAlign: "center",
    textStyle: { fontFamily: FONT, fontWeight: "bold", fontSize: p.titleSize, color: "#111" }
  });
  option.legend.push({
    data: p.names,
    left: p.legendX,
    top: p.legendY - 26,
    padding: 0,
    icon: "circle",
    itemWidth: 26,
    itemHeight: 7,
    itemGap: Math.round(p.step - 31 - 6.2 * p.legendSize),
    selectedMode: false,
    textStyle: { fontFamily: FONT, fontWeight: "bold", fontSize: p.legendSize, color: "#111" }
  });
  option.grid.push({
    left: p.plot[0],
    top: p.plot[1],
    width: p.plot[2] - p.plot[0],
    height: p.plot[3] - p.plot[1]
  });
  option.xAxis.push({
    gridIndex: i,
    type: "value",
    min: 0,
    max: xTicksMax,
    interval: 2000,
    name: "Sample number",
    nameLocation: "middle",
    nameGap: 55,
    nameTextStyle: { fontFamily: FONT, fontWeight: "bold", fontSize: 35, color: "#111", padding: [0, 16, 0, 0] },
    axisLine: { onZero: false, lineStyle: { color: "#d9d9d9", width: 2 } },
    axisTick: { show: false },
    axisLabel: { fontFamily: FONT, fontSize: 21, color: "#808080", margin: 16, formatter: v => String(v) },
    splitLine: { show: true, lineStyle: { color: "#f0f0f0", width: 2 } }
  });
  option.yAxis.push({
    gridIndex: i,
    type: "value",
    min: p.yMin,
    max: p.yMax,
    interval: p.yStep,
    name: "Error (unit: pixel)",
    nameLocation: "middle",
    nameGap: p.yNameGap,
    nameTextStyle: { fontFamily: FONT, fontWeight: "bold", fontSize: 37, color: "#111" },
    axisLine: { show: true, onZero: false, lineStyle: { color: "#e2e2e2", width: 2 } },
    axisTick: { show: false },
    axisLabel: { fontFamily: FONT, fontSize: 21, color: "#808080", margin: 14 },
    splitLine: { show: true, lineStyle: { color: "#e4e4e4", width: 3 } }
  });
  p.names.forEach((name, k) => {
    option.series.push({
      name: name,
      type: "custom",
      xAxisIndex: i,
      yAxisIndex: i,
      itemStyle: { color: colors[k] },
      renderItem: cloudRenderer(p.bands[k], colors[k]),
      encode: { x: 0, y: [1, 2, 3, 4] },
      data: p.bands[k],
      silent: true
    });
    option.series.push({
      name: name,
      type: "scatter",
      xAxisIndex: i,
      yAxisIndex: i,
      symbolSize: 9,
      itemStyle: { color: colors[k] },
      data: p.dots[k],
      silent: true
    });
  });
});

captions.forEach(c => {
  option.title.push({
    text: "{p|(}{b|" + c[0] + "}{p|)}",
    left: c[1],
    top: c[2] - 32,
    textAlign: "center",
    textStyle: {
      rich: {
        p: { fontFamily: FONT, fontSize: 58, color: "#111" },
        b: { fontFamily: FONT, fontSize: 58, fontWeight: "bold", color: "#111" }
      }
    }
  });
});

const chart = echarts.init(document.getElementById("chart"));
chart.setOption(option);
</script>
</body>
</html>
